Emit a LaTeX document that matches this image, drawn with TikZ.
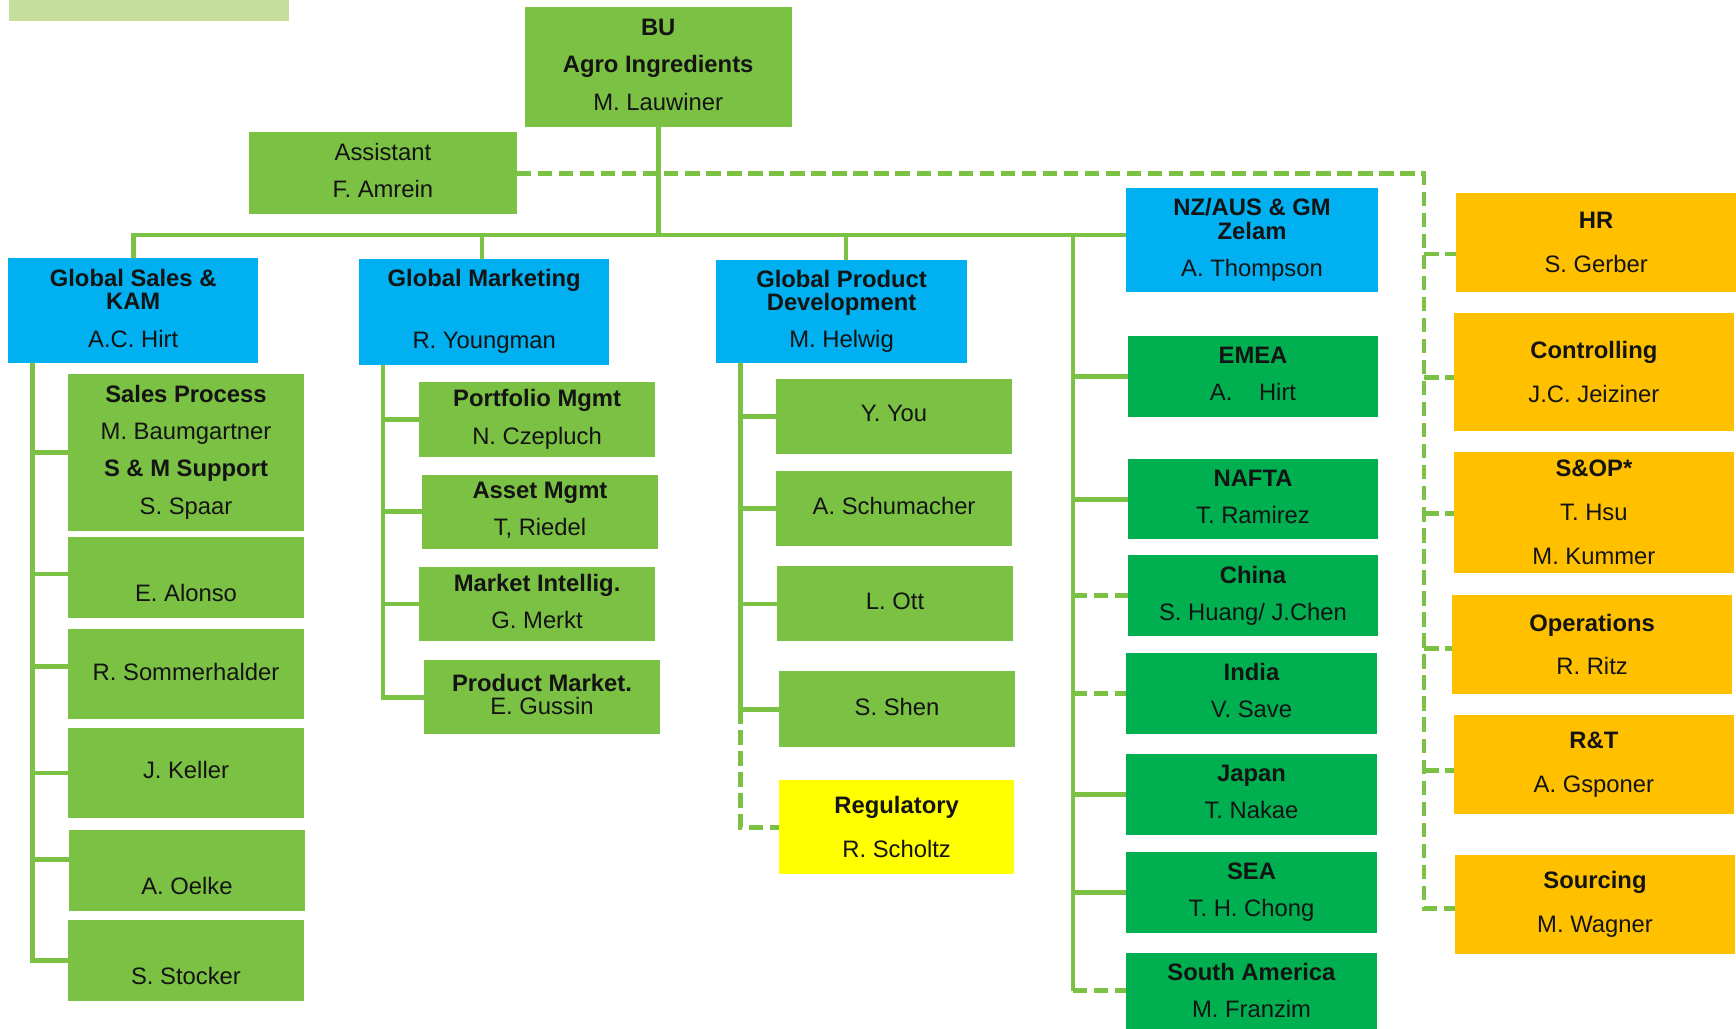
\documentclass[tikz,border=0pt]{standalone}
\usepackage{fontspec}
\setmainfont{Liberation Sans}
\usetikzlibrary{calc}
\definecolor{leaf}{HTML}{7BC143}
\definecolor{skyb}{HTML}{00B0F0}
\definecolor{regg}{HTML}{00B050}
\definecolor{amber}{HTML}{FFC000}
\definecolor{lemon}{HTML}{FFFF00}
\definecolor{paleg}{HTML}{C5DE9C}
\definecolor{ink}{HTML}{141414}
\newcommand\bld[1]{\textbf{#1}}
% \orgbox{name}{style}{x1}{y1}{x2}{y2}{text}: box given by its top-left and bottom-right corners
\newcommand\orgbox[7]{%
  \node[#2, anchor=north west, minimum width={(#5-#3)*1pt}, minimum height={(#6-#4)*1pt}] (#1) at (#3,#4) {#7};}
\begin{document}
\begin{tikzpicture}[x=1pt, y=-1pt,
  box/.style={draw=none, inner sep=0pt, outer sep=0pt, align=center, text=ink,
    font=\fontsize{21.5}{33.5}\selectfont},
  lifted/.style={text depth=4.6pt},
  limebox/.style={box, lifted, fill=leaf},
  bluebox/.style={box, lifted, fill=skyb},
  greenbox/.style={box, lifted, fill=regg},
  flatgreenbox/.style={box, fill=regg},
  orangebox/.style={box, fill=amber, font=\fontsize{21.5}{39.5}\selectfont},
  yellowbox/.style={box, fill=lemon, font=\fontsize{21.5}{40}\selectfont},
  stripbox/.style={box, fill=paleg},
  conn/.style={draw=leaf, line width=4.2pt},
  dconn/.style={conn, dash pattern=on 13pt off 6pt}]
\useasboundingbox[fill=white] (0,0) rectangle (1568,929);

% header strip
\orgbox{tag}{stripbox}{8.3}{0}{260.9}{18.7}{}

% head and assistant
\orgbox{bu}{limebox}{473.8}{6.6}{715.2}{115}{\bld{BU}\\\bld{Agro Ingredients}\\M. Lauwiner}
\orgbox{as}{limebox}{224.9}{119.5}{466.8}{193.6}{Assistant\\F. Amrein}

% functions
\orgbox{gs}{bluebox}{7.4}{233.3}{233.2}{328.2}{\bld{Global Sales \&}\\[-12.5pt]\bld{KAM}\\A.C. Hirt}
\orgbox{gm}{bluebox}{324.4}{233.9}{550.3}{329.4}{\bld{Global Marketing}\\[22.5pt]R. Youngman}
\orgbox{gpd}{bluebox}{646.6}{234.9}{873.6}{328.2}{\bld{Global Product}\\[-12.5pt]\bld{Development}\\M. Helwig}
\orgbox{nz}{bluebox}{1017}{169.8}{1244.7}{263.5}{\bld{NZ/AUS \& GM}\\[-12.5pt]\bld{Zelam}\\A. Thompson}

% sales team
\orgbox{sproc}{limebox}{61.4}{337.8}{274.6}{479.3}{\bld{Sales Process}\\M. Baumgartner\\\bld{S \& M Support}\\S. Spaar}
\orgbox{alonso}{limebox}{61.4}{485.3}{274.6}{557.9}{\vphantom{E}\\E. Alonso}
\orgbox{somm}{limebox}{61.4}{568.4}{274.6}{649.1}{R. Sommerhalder}
\orgbox{keller}{limebox}{61.4}{657.6}{274.6}{738.6}{J. Keller}
\orgbox{oelke}{limebox}{62.3}{749.7}{275.5}{822.6}{\vphantom{E}\\A. Oelke}
\orgbox{stock}{limebox}{61.4}{831}{274.6}{903.9}{\vphantom{E}\\S. Stocker}

% marketing team
\orgbox{port}{limebox}{378.6}{345.2}{591.6}{412.4}{\bld{Portfolio Mgmt}\\N. Czepluch}
\orgbox{asset}{limebox}{381}{428.6}{594.4}{495.8}{\bld{Asset Mgmt}\\T, Riedel}
\orgbox{mkt}{limebox}{378.6}{512}{591.6}{579.2}{\bld{Market Intellig.}\\G. Merkt}
\orgbox{pmk}{limebox}{383}{596.2}{596}{663.4}{\bld{Product Market.}\\[-12.5pt]E. Gussin}

% product development team
\orgbox{you}{limebox}{701.1}{342.3}{914}{409.8}{Y. You}
\orgbox{schu}{limebox}{701.1}{425.4}{914}{492.9}{A. Schumacher}
\orgbox{ott}{limebox}{701.8}{511.6}{915}{579.2}{L. Ott}
\orgbox{shen}{limebox}{703.6}{606.5}{916.8}{674.6}{S. Shen}
\orgbox{reg}{yellowbox}{703.7}{704.8}{916}{789.5}{\bld{Regulatory}\\R. Scholtz}

% regions
\orgbox{emea}{greenbox}{1018.8}{303.5}{1244.7}{376.4}{\bld{EMEA}\\A.\hspace{24pt}Hirt}
\orgbox{nafta}{greenbox}{1018.8}{414.6}{1244.7}{487.2}{\bld{NAFTA}\\T. Ramirez}
\orgbox{china}{greenbox}{1018.8}{501.6}{1244.7}{574.2}{\bld{China}\\S. Huang/ J.Chen}
\orgbox{india}{greenbox}{1017}{589.8}{1243.8}{662.7}{\bld{India}\\V. Save}
\orgbox{japan}{greenbox}{1017}{681}{1243.8}{754}{\bld{Japan}\\T. Nakae}
\orgbox{sea}{greenbox}{1017}{769.6}{1243.8}{842.5}{\bld{SEA}\\T. H. Chong}
\orgbox{sa}{flatgreenbox}{1017}{860.8}{1243.8}{929}{\bld{South America}\\M. Franzim}

% staff functions
\orgbox{hr}{orangebox}{1315.3}{174.3}{1568}{263.5}{\bld{HR}\\S. Gerber}
\orgbox{ctl}{orangebox}{1313.3}{282.7}{1566}{389}{\bld{Controlling}\\J.C. Jeiziner}
\orgbox{sop}{orangebox}{1313.3}{408.3}{1566}{517.3}{\bld{S\&OP*}\\T. Hsu\\M. Kummer}
\orgbox{ops}{orangebox}{1311.5}{537.4}{1564.5}{626.6}{\bld{Operations}\\R. Ritz}
\orgbox{rt}{orangebox}{1313.3}{645.8}{1566}{735}{\bld{R\&T}\\A. Gsponer}
\orgbox{src}{orangebox}{1314.2}{772.3}{1567}{861.4}{\bld{Sourcing}\\M. Wagner}

% main bar under the head
\coordinate (bar) at (0,212.3);
\draw[conn] (bu.south) -- (bu.south |- bar);
\draw[conn] (gs.north) -- (gs.north |- bar) -- (nz.west |- bar);
\draw[conn] ([xshift=-2pt]gm.north) -- ([xshift=-2pt]gm.north |- bar);
\draw[conn] ([xshift=4pt]gpd.north) -- ([xshift=4pt]gpd.north |- bar);

% regional spine
\coordinate (rsp) at (969,0);
\draw[conn] (rsp |- bar) -- (rsp |- sa.west);
\foreach \n in {emea,nafta,japan,sea} \draw[conn] (rsp |- \n.west) -- (\n.west);
\foreach \n in {china,india,sa} \draw[dconn] (rsp |- \n.west) -- (\n.west);

% sales column
\coordinate (gsv) at ([xshift=22pt]gs.south west);
\draw[conn] (gsv) |- (stock.west);
\foreach \n/\d in {sproc/0,alonso/3,somm/7,keller/0,oelke/10}
  \draw[conn] ([yshift=\d pt]\n.west -| gsv) -- ([yshift=\d pt]\n.west);

% marketing column
\coordinate (gmv) at ([xshift=21.6pt]gm.south west);
\draw[conn] (gmv) |- (pmk.west);
\foreach \n in {port,asset,mkt} \draw[conn] (\n.west -| gmv) -- (\n.west);

% product development column
\coordinate (gpv) at ([xshift=22.5pt]gpd.south west);
\draw[conn] (gpv) |- (shen.west);
\foreach \n in {you,schu,ott} \draw[conn] (\n.west -| gpv) -- (\n.west);
\draw[dconn] (gpv |- shen.west) |- (reg.west);

% dotted staff line from the assistant
\coordinate (stv) at ([xshift=-29pt]hr.west);
\draw[dconn] (as.east) -| ([yshift=-3.6pt]src.west -| stv) -- ([yshift=-3.6pt]src.west);
\foreach \n/\d in {hr/-10.5,ctl/-5.2,sop/-1,ops/-4,rt/-5.7}
  \draw[dconn] ([yshift=\d pt]\n.west -| stv) -- ([yshift=\d pt]\n.west);
\end{tikzpicture}
\end{document}
